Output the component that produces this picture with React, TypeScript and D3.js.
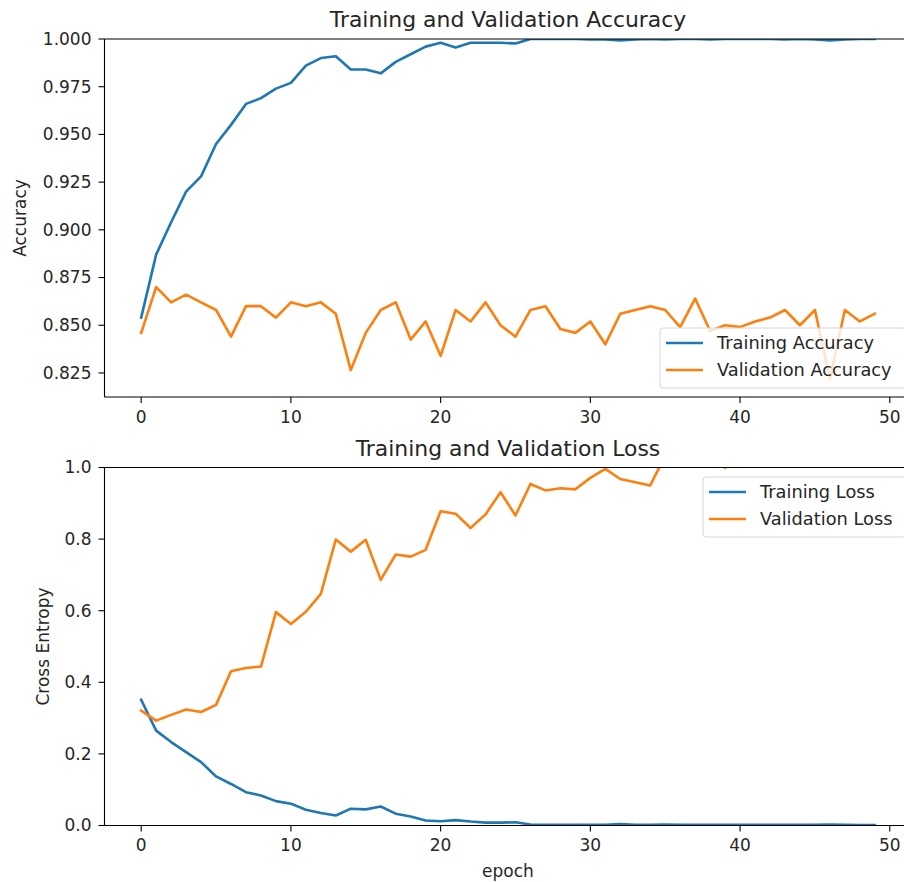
import React from "react";
import * as d3 from "d3";

const epochs: number[] = Array.from({ length: 50 }, (_, i) => i);

const trainAcc: number[] = [
  0.854, 0.887, 0.904, 0.92, 0.928, 0.945, 0.955, 0.966, 0.969, 0.974,
  0.977, 0.986, 0.99, 0.991, 0.984, 0.984, 0.982, 0.988, 0.992, 0.996,
  0.998, 0.9955, 0.998, 0.998, 0.998, 0.9977, 1.0, 1.0, 1.0, 1.0,
  0.9997, 0.9998, 0.9993, 0.9998, 1.0, 0.9998, 1.0, 1.0, 0.9998, 1.0,
  1.0, 1.0, 1.0, 0.9998, 1.0, 0.9998, 0.9993, 0.9997, 1.0, 1.0,
];

const valAcc: number[] = [
  0.846, 0.87, 0.862, 0.866, 0.862, 0.858, 0.844, 0.86, 0.86, 0.854,
  0.862, 0.86, 0.862, 0.856, 0.8265, 0.846, 0.858, 0.862, 0.8425, 0.852,
  0.834, 0.858, 0.852, 0.862, 0.85, 0.844, 0.858, 0.86, 0.848, 0.846,
  0.852, 0.84, 0.856, 0.858, 0.86, 0.858, 0.849, 0.864, 0.847, 0.85,
  0.849, 0.852, 0.854, 0.858, 0.85, 0.858, 0.822, 0.858, 0.852, 0.856,
];

const trainLoss: number[] = [
  0.351, 0.265, 0.233, 0.205, 0.177, 0.137, 0.116, 0.093, 0.084, 0.068,
  0.061, 0.044, 0.035, 0.028, 0.047, 0.045, 0.053, 0.033, 0.025, 0.014,
  0.012, 0.015, 0.011, 0.008, 0.008, 0.009, 0.003, 0.002, 0.002, 0.002,
  0.002, 0.002, 0.004, 0.002, 0.002, 0.003, 0.002, 0.002, 0.002, 0.002,
  0.002, 0.002, 0.002, 0.002, 0.002, 0.002, 0.003, 0.002, 0.001, 0.001,
];

const valLoss: number[] = [
  0.321, 0.293, 0.309, 0.324, 0.317, 0.337, 0.431, 0.44, 0.444, 0.596,
  0.563, 0.597, 0.647, 0.799, 0.765, 0.798, 0.686, 0.757, 0.751, 0.77,
  0.878, 0.871, 0.831, 0.869, 0.931, 0.866, 0.954, 0.936, 0.942, 0.939,
  0.971, 0.996, 0.968, 0.959, 0.95, 1.033, 1.06, 1.08, 1.04, 0.999,
  1.07, 1.1, 1.09, 1.12, 1.08, 1.15, 1.11, 1.14, 1.18, 1.16,
];

const xTicks: number[] = [0, 10, 20, 30, 40, 50];
const accTicks: number[] = [0.825, 0.85, 0.875, 0.9, 0.925, 0.95, 0.975, 1.0];
const lossTicks: number[] = [0, 0.2, 0.4, 0.6, 0.8, 1.0];

const C0 = "#1f77b4";
const C1 = "#ff7f0e";
const FONT = "'DejaVu Sans', sans-serif";
const TXT = "#262626";

const AX_L = 104.5;
const AX_R = 911.5;

type Series = { values: number[]; color: string; label: string };

function Panel(props: {
  top: number;
  bottom: number;
  yDomain: [number, number];
  yTicks: number[];
  yFmt: (v: number) => string;
  title: string;
  yLabel: string;
  yLabelX: number;
  xLabel?: string;
  series: Series[];
  legend: { x: number; y: number; w: number; h: number };
  id: string;
}) {
  const { top, bottom, yDomain, yTicks, yFmt, title, yLabel, yLabelX, xLabel, series, legend, id } = props;
  const x = d3.scaleLinear().domain([-2.45, 51.45]).range([AX_L, AX_R]);
  const y = d3.scaleLinear().domain(yDomain).range([bottom, top]);
  const line = d3
    .line<number>()
    .x((_, i) => x(epochs[i]))
    .y((d) => y(d));
  const tickLen = 6;
  return (
    <g>
      <defs>
        <clipPath id={id}>
          <rect x={AX_L} y={top} width={AX_R - AX_L} height={bottom - top} />
        </clipPath>
      </defs>
      <g clipPath={`url(#${id})`}>
        {series.map((s) => (
          <path
            key={s.label}
            d={line(s.values) || ""}
            fill="none"
            stroke={s.color}
            strokeWidth={2.6}
            strokeLinejoin="round"
            strokeLinecap="square"
          />
        ))}
      </g>
      <line x1={AX_L} x2={AX_L} y1={top} y2={bottom} stroke="#000" strokeWidth={1.1} />
      <line x1={AX_L} x2={AX_R} y1={bottom} y2={bottom} stroke="#000" strokeWidth={1.1} />
      <line x1={AX_L} x2={AX_R} y1={top} y2={top} stroke="#000" strokeWidth={1.1} />
      <line x1={AX_R} x2={AX_R} y1={top} y2={bottom} stroke="#000" strokeWidth={1.1} />
      {yTicks.map((t) => (
        <g key={t}>
          <line x1={AX_L - tickLen} x2={AX_L} y1={y(t)} y2={y(t)} stroke="#000" strokeWidth={1.1} />
          <text
            x={AX_L - tickLen - 7}
            y={y(t)}
            dy="0.35em"
            textAnchor="end"
            fontSize={17}
            fontFamily={FONT}
            fill={TXT}
          >
            {yFmt(t)}
          </text>
        </g>
      ))}
      {xTicks.map((t) => (
        <g key={t}>
          <line x1={x(t)} x2={x(t)} y1={bottom} y2={bottom + tickLen} stroke="#000" strokeWidth={1.1} />
          <text
            x={x(t)}
            y={bottom + tickLen + 6}
            dy="0.8em"
            textAnchor="middle"
            fontSize={17}
            fontFamily={FONT}
            fill={TXT}
          >
            {t}
          </text>
        </g>
      ))}
      <text
        x={(AX_L + AX_R) / 2}
        y={top - 12}
        textAnchor="middle"
        fontSize={21.9}
        fontFamily={FONT}
        fill={TXT}
      >
        {title}
      </text>
      <text
        transform={`translate(${yLabelX},${(top + bottom) / 2}) rotate(-90)`}
        textAnchor="middle"
        dy="0.35em"
        fontSize={17}
        fontFamily={FONT}
        fill={TXT}
      >
        {yLabel}
      </text>
      {xLabel && (
        <text
          x={(AX_L + AX_R) / 2}
          y={bottom + 51}
          textAnchor="middle"
          fontSize={17}
          fontFamily={FONT}
          fill={TXT}
        >
          {xLabel}
        </text>
      )}
      <g>
        <rect
          x={legend.x}
          y={legend.y}
          width={legend.w}
          height={legend.h}
          rx={3}
          fill="#fff"
          fillOpacity={0.8}
          stroke="#d6d6d6"
          strokeWidth={1}
        />
        {series.map((s, i) => {
          const cy = legend.y + 15 + i * 27;
          return (
            <g key={s.label}>
              <line
                x1={legend.x + 6}
                x2={legend.x + 43}
                y1={cy}
                y2={cy}
                stroke={s.color}
                strokeWidth={2.6}
              />
              <text
                x={legend.x + 57}
                y={cy}
                dy="0.35em"
                fontSize={17.8}
                fontFamily={FONT}
                fill={TXT}
              >
                {s.label}
              </text>
            </g>
          );
        })}
      </g>
    </g>
  );
}

export default function App() {
  return (
    <svg
      width={904}
      height={882}
      style={{ position: "absolute", left: 0, top: 0, background: "#fff" }}
    >
      <rect x={0} y={0} width={904} height={882} fill="#fff" />
      <Panel
        id="clipAcc"
        top={39}
        bottom={397}
        yDomain={[0.8124, 1.0]}
        yTicks={accTicks}
        yFmt={(v) => v.toFixed(3)}
        title="Training and Validation Accuracy"
        yLabel="Accuracy"
        yLabelX={20}
        series={[
          { values: trainAcc, color: C0, label: "Training Accuracy" },
          { values: valAcc, color: C1, label: "Validation Accuracy" },
        ]}
        legend={{ x: 660, y: 328, w: 246, h: 60 }}
      />
      <Panel
        id="clipLoss"
        top={467.5}
        bottom={825.5}
        yDomain={[0, 1]}
        yTicks={lossTicks}
        yFmt={(v) => v.toFixed(1)}
        title="Training and Validation Loss"
        yLabel="Cross Entropy"
        yLabelX={43}
        xLabel="epoch"
        series={[
          { values: trainLoss, color: C0, label: "Training Loss" },
          { values: valLoss, color: C1, label: "Validation Loss" },
        ]}
        legend={{ x: 703, y: 477, w: 203, h: 60 }}
      />
    </svg>
  );
}
